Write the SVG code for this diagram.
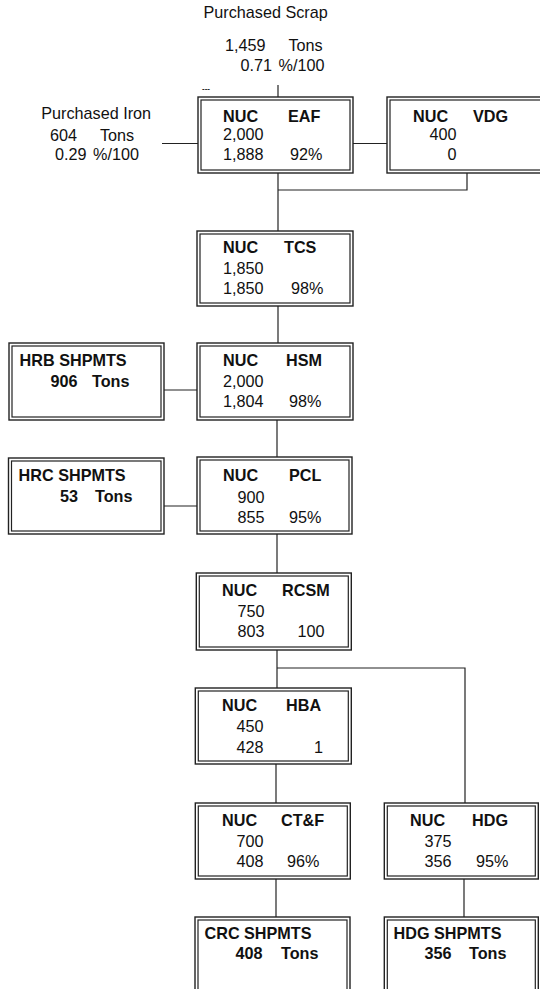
<svg xmlns="http://www.w3.org/2000/svg" width="540" height="989" viewBox="0 0 540 989">
<style>
text{font-family:"Liberation Sans",Arial,sans-serif;font-size:16.2px;fill:#111}
.b{font-weight:bold}
.o{fill:#fff;stroke:#222;stroke-width:1.4}
.i{fill:none;stroke:#222;stroke-width:1.2}
.c line,.c polyline{stroke:#222;stroke-width:1.2;fill:none}
.r{text-anchor:end}
</style>
<rect width="540" height="989" fill="#fff"/>
<g class="c" id="connectors">
<line x1="278" y1="85" x2="278" y2="97"/>
<line x1="162" y1="143.5" x2="198" y2="143.5"/>
<line x1="353" y1="143.5" x2="387" y2="143.5"/>
<line x1="278" y1="173" x2="278" y2="231"/>
<polyline points="467,173 467,190 278,190"/>
<line x1="278" y1="306" x2="278" y2="343"/>
<line x1="164" y1="390" x2="197" y2="390"/>
<line x1="277" y1="420" x2="277" y2="457"/>
<line x1="164" y1="506" x2="197" y2="506"/>
<line x1="277" y1="534" x2="277" y2="573"/>
<line x1="277" y1="650" x2="277" y2="688"/>
<polyline points="277,668 465,668 465,803"/>
<line x1="276" y1="764" x2="276" y2="803"/>
<line x1="276" y1="879" x2="276" y2="917"/>
<line x1="464" y1="879" x2="464" y2="917"/>
</g>
<g id="scrap">
<text x="203.5" y="18">Purchased Scrap</text>
<text x="225" y="51">1,459</text><text x="288.5" y="51">Tons</text>
<text x="240.5" y="70.5">0.71</text><text x="278.5" y="70.5">%/100</text>
<text x="202" y="91" style="font-size:8px;font-weight:bold">---</text>
</g>
<g id="iron">
<text x="41.3" y="119">Purchased Iron</text>
<text x="50" y="141">604</text><text x="100" y="141">Tons</text>
<text x="55" y="160">0.29</text><text x="93" y="160">%/100</text>
</g>
<g id="eaf">
<rect class="o" x="198" y="97" width="155" height="76"/><rect class="i" x="201" y="100" width="149" height="70"/>
<text class="b" x="223" y="122">NUC</text><text class="b" x="288" y="122">EAF</text>
<text x="223" y="140">2,000</text>
<text x="223" y="160">1,888</text><text x="290" y="160">92%</text>
</g>
<g id="vdg">
<rect class="o" x="387" y="97" width="170" height="76"/><rect class="i" x="390" y="100" width="170" height="70"/>
<text class="b" x="413" y="122">NUC</text><text class="b" x="473" y="122">VDG</text>
<text class="r" x="456.5" y="140">400</text>
<text class="r" x="456.5" y="160">0</text>
</g>
<g id="tcs">
<rect class="o" x="197" y="231" width="156" height="75"/><rect class="i" x="200" y="234" width="150" height="69"/>
<text class="b" x="223" y="253">NUC</text><text class="b" x="284" y="253">TCS</text>
<text x="223" y="273.5">1,850</text>
<text x="223" y="293.5">1,850</text><text x="291" y="293.5">98%</text>
</g>
<g id="hrb">
<rect class="o" x="9" y="343" width="155" height="77"/><rect class="i" x="12" y="346" width="149" height="71"/>
<text class="b" x="19.6" y="366">HRB SHPMTS</text>
<text class="b" x="50.6" y="386.5">906</text><text class="b" x="92" y="386.5">Tons</text>
</g>
<g id="hsm">
<rect class="o" x="197" y="343" width="156" height="77"/><rect class="i" x="200" y="346" width="150" height="71"/>
<text class="b" x="223" y="365.5">NUC</text><text class="b" x="286" y="365.5">HSM</text>
<text x="223" y="386.5">2,000</text>
<text x="223" y="407">1,804</text><text x="289" y="407">98%</text>
</g>
<g id="hrc">
<rect class="o" x="8.5" y="458" width="155.5" height="76"/><rect class="i" x="11.5" y="461" width="149.5" height="70"/>
<text class="b" x="18.6" y="481">HRC SHPMTS</text>
<text class="b" x="60" y="502">53</text><text class="b" x="95" y="502">Tons</text>
</g>
<g id="pcl">
<rect class="o" x="197" y="457" width="155" height="77"/><rect class="i" x="200" y="460" width="149" height="71"/>
<text class="b" x="223" y="481">NUC</text><text class="b" x="289" y="481">PCL</text>
<text x="237.6" y="502.5">900</text>
<text x="237.6" y="522.5">855</text><text x="289" y="522.5">95%</text>
</g>
<g id="rcsm">
<rect class="o" x="196.3" y="573" width="155" height="77"/><rect class="i" x="199.3" y="576" width="149" height="71"/>
<text class="b" x="222" y="595.5">NUC</text><text class="b" x="282" y="595.5">RCSM</text>
<text x="237.6" y="616.5">750</text>
<text x="237.6" y="637">803</text><text x="297.5" y="637">100</text>
</g>
<g id="hba">
<rect class="o" x="195.3" y="688" width="156" height="76"/><rect class="i" x="198.3" y="691" width="150" height="70"/>
<text class="b" x="222" y="711">NUC</text><text class="b" x="286" y="711">HBA</text>
<text x="236.6" y="732">450</text>
<text x="236.6" y="753">428</text><text class="r" x="323" y="753">1</text>
</g>
<g id="ctf">
<rect class="o" x="195.3" y="803" width="155" height="76"/><rect class="i" x="198.3" y="806" width="149" height="70"/>
<text class="b" x="222" y="826">NUC</text><text class="b" x="281" y="826">CT&amp;F</text>
<text x="236.6" y="847">700</text>
<text x="236.6" y="867">408</text><text x="287" y="867">96%</text>
</g>
<g id="hdg">
<rect class="o" x="384.3" y="803" width="154" height="76"/><rect class="i" x="387.3" y="806" width="148" height="70"/>
<text class="b" x="410" y="826">NUC</text><text class="b" x="472" y="826">HDG</text>
<text x="424.6" y="847">375</text>
<text x="424.6" y="867">356</text><text x="476" y="867">95%</text>
</g>
<g id="crc">
<rect class="o" x="195" y="917" width="155" height="80"/><rect class="i" x="198" y="920" width="149" height="80"/>
<text class="b" x="204.5" y="938.5">CRC SHPMTS</text>
<text class="b" x="235.5" y="959">408</text><text class="b" x="281" y="959">Tons</text>
</g>
<g id="hdgs">
<rect class="o" x="384.3" y="917" width="154" height="80"/><rect class="i" x="387.3" y="920" width="148" height="80"/>
<text class="b" x="393.6" y="938.5">HDG SHPMTS</text>
<text class="b" x="424.6" y="959">356</text><text class="b" x="469" y="959">Tons</text>
</g>
</svg>
